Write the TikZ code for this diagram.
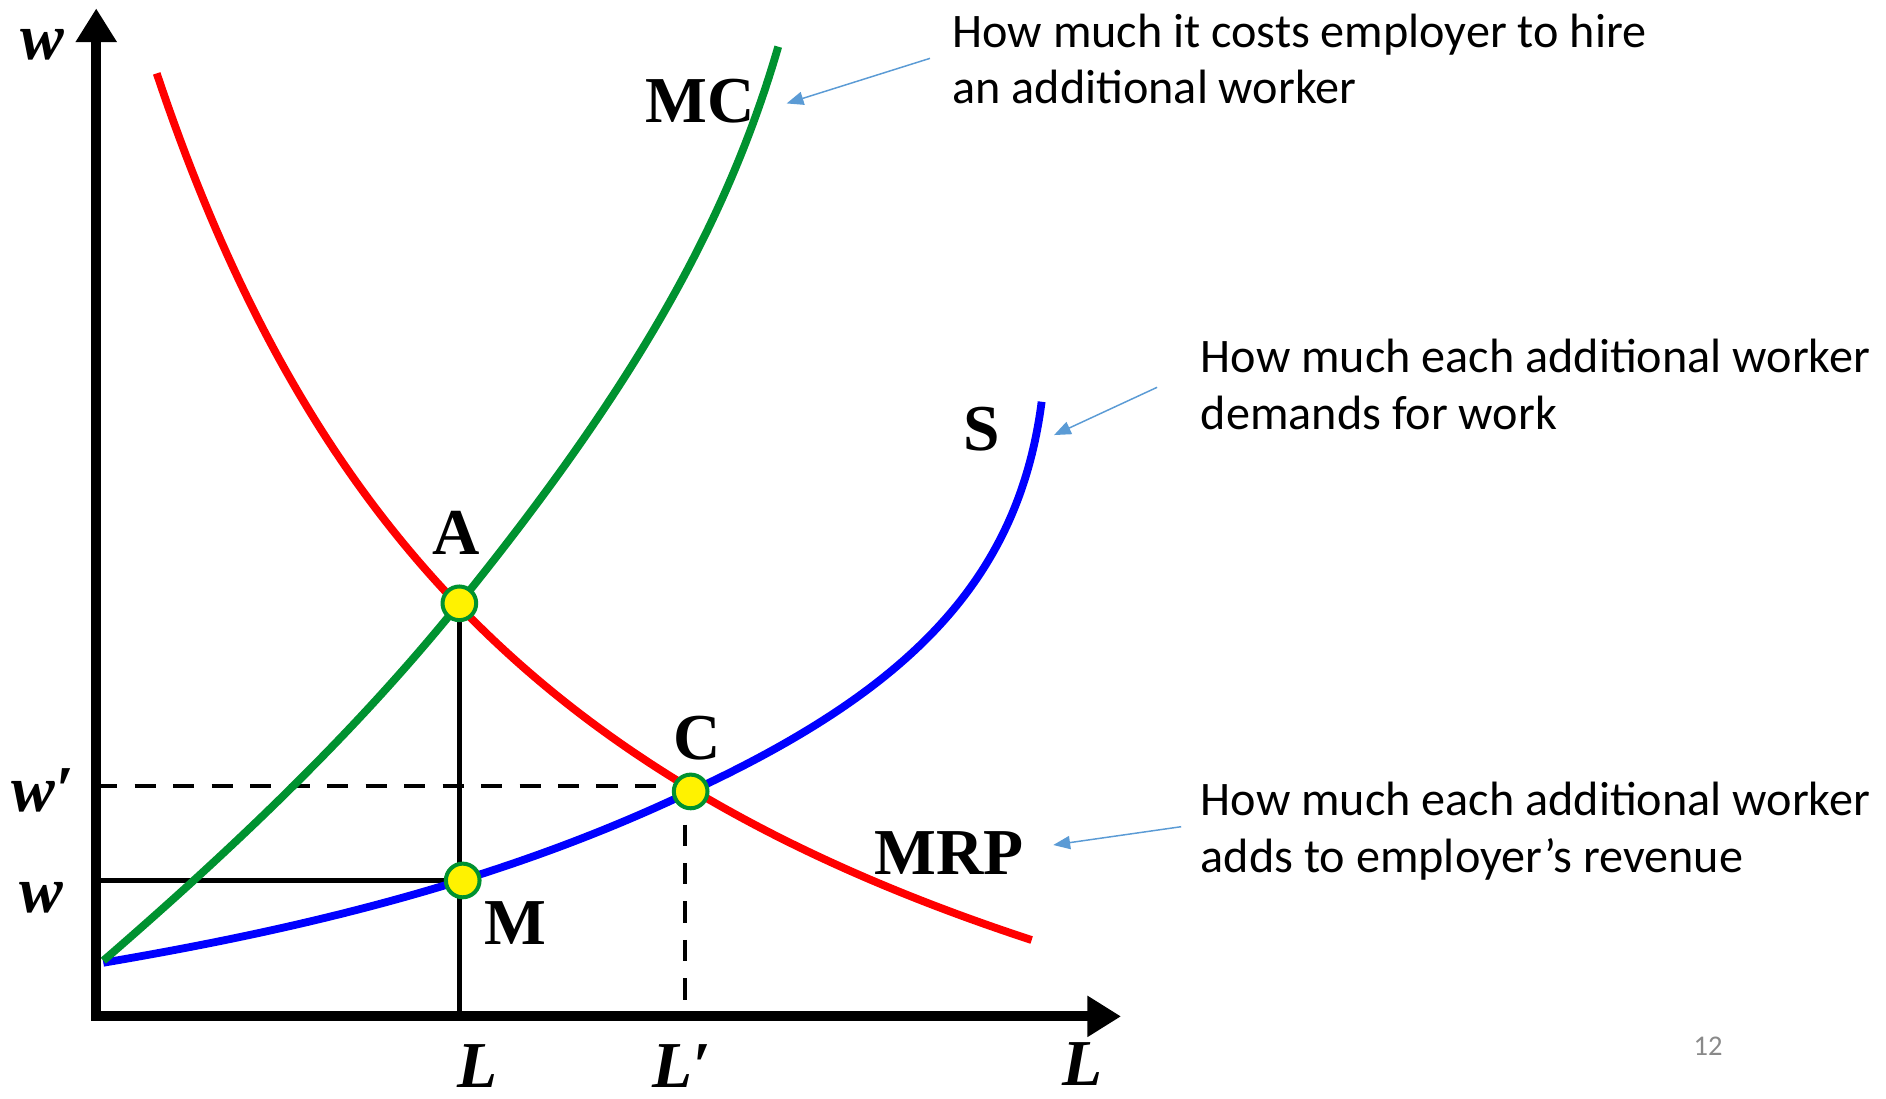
\documentclass[tikz,border=0pt]{standalone}
\usepackage{fontspec}
\setmainfont{Carlito}
\newfontfamily\tnr{Liberation Serif}
\usetikzlibrary{arrows.meta}
\definecolor{mcgreen}{RGB}{0,146,48}
\definecolor{annblue}{RGB}{91,155,213}
\definecolor{pggray}{RGB}{137,137,137}
\begin{document}
\begin{tikzpicture}[x=0.02cm, y=-0.02cm,
  curve/.style={line width=3.7pt},
  axisline/.style={line width=4.7pt, line join=miter},
  guide/.style={line width=2.1pt},
  dguide/.style={line width=2.1pt, dash pattern=on 0.35cm off 0.29cm},
  pt/.style={circle, fill=yellow, draw=mcgreen, line width=1.9pt, minimum size=0.56cm, inner sep=0pt},
  lbl/.style={font={\tnr\bfseries\fontsize{31}{37}\selectfont}, inner sep=0pt},
  ilbl/.style={font={\tnr\bfseries\itshape\fontsize{31}{37}\selectfont}, inner sep=0pt},
  ann/.style={font={\fontsize{22.8}{26.7}\selectfont}, align=left, anchor=base west, inner sep=0pt},
  annarrow/.style={draw=annblue, line width=0.7pt, -{Triangle[length=0.28cm,width=0.22cm]}}
]
\useasboundingbox (0,0) rectangle (1568,913);

% axes
\coordinate (O) at (80,845);
\coordinate (ytip) at (80,7);
\coordinate (xtip) at (932,845);
\draw[axisline, {Triangle[length=0.56cm,width=0.65cm]}-{Triangle[length=0.56cm,width=0.65cm]}] (ytip) -- (O) -- (xtip);

% key points
\coordinate (pA) at (381.9,501.6);
\coordinate (pC) at (574.2,658);
\coordinate (pCd) at (569.5,653.5);
\coordinate (pM) at (384.7,732);
\coordinate (sS) at (85.9,800.4);
\coordinate (sMC) at (85.9,798.7);
\coordinate (eS) at (866,334);
\coordinate (eMC) at (647,38.8);

% guide lines
\draw[guide] (pA) -- (pA |- O);
\draw[guide] (O |- pM) -- (pM);
\draw[dguide] (O |- pCd) -- (pCd);
\draw[dguide] (pCd) -- (pCd |- O);

% curves
\draw[curve, blue] (sS) .. controls (245.9,773.2) and (414.2,734.2) .. (pC)
                        .. controls (755.2,574) and (846.7,482.8) .. (eS);
\draw[curve, red] plot[domain=130.3:857.7, samples=150] (\x, {1138.4 - 3881.8/((\x+230)/100)});
\draw[curve, mcgreen] (sMC) .. controls (191.7,707) and (294,610.5) .. (pA)
                           .. controls (523.2,326.6) and (603,190.4) .. (eMC);

% points
\node[pt] (A) at (pA) {};
\node[pt] (C) at (pC) {};
\node[pt] (M) at (pM) {};

% labels
\node[lbl] (lA) at (379,443.4) {A};
\node[lbl] (lC) at (580,613.8) {C};
\node[lbl] (lM) at (428.9,767) {M};
\node[lbl] (lMC) at (582,84) {MC};
\node[lbl] (lS) at (816,356.7) {S};
\node[lbl] (lMRP) at (789.2,709.5) {MRP};
\node[ilbl] (lw) at (35.3,37.4) {w};
\node[ilbl] (lwp) at (35.3,657.5) {w′};
\node[ilbl] (lw2) at (34.7,746.2) {w};
\node[ilbl] (lL) at (397,886) {L};
\node[ilbl] (lLp) at (566.7,886) {L′};
\node[ilbl] (lLax) at (900,885) {L};

% annotations
\node[ann] (t1) at (791.5,86) {How much it costs employer to hire\\an additional worker};
\node[ann] (t2) at (998,357) {How much each additional worker\\demands for work};
\node[ann] (t3) at (998,725) {How much each additional worker\\adds to employer’s revenue};

\coordinate (a1s) at (773.2,48.5);
\coordinate (a1e) at (654,86);
\coordinate (a2s) at (962,322);
\coordinate (a2e) at (876.3,361.7);
\coordinate (a3s) at (982,687.3);
\coordinate (a3e) at (875.7,702.5);
\draw[annarrow] (a1s) -- (a1e);
\draw[annarrow] (a2s) -- (a2e);
\draw[annarrow] (a3s) -- (a3e);

\node[font={\fontsize{13.5}{16}\selectfont}, text=pggray, inner sep=0pt] (pg) at (1420,870) {12};
\end{tikzpicture}
\end{document}
